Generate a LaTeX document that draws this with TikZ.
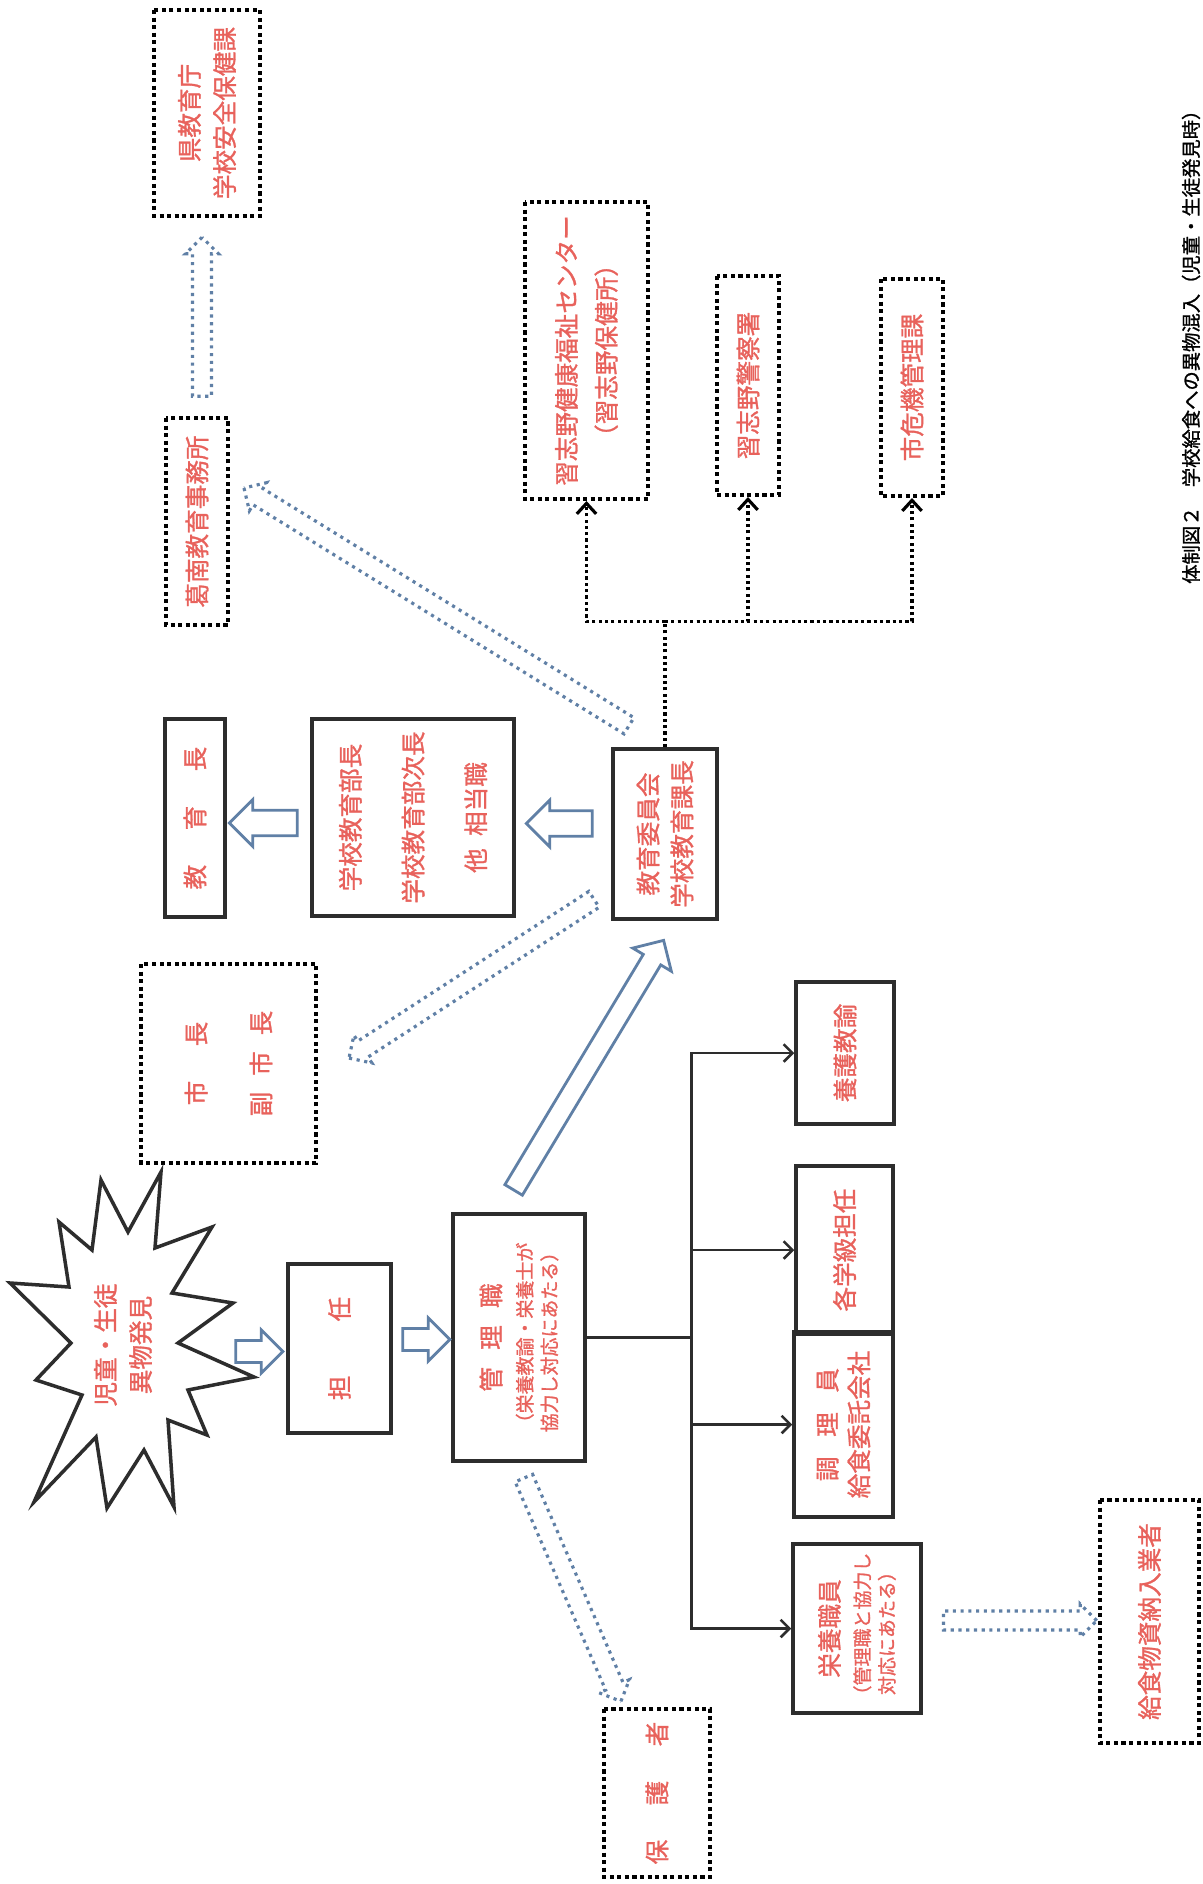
\documentclass[tikz,border=0pt]{standalone}
\usepackage{fontspec}
\newfontfamily\jp{Noto Sans CJK JP}[FakeBold=1.2]
\usetikzlibrary{shapes.arrows,arrows.meta,calc}
\definecolor{txtred}{RGB}{232,98,92}
\definecolor{arrowblue}{RGB}{96,128,166}
\definecolor{boxgray}{RGB}{45,45,45}
\newcommand{\sm}{\fontsize{10.8}{13.6}\selectfont}
\newcommand{\harrow}[3]{%
	\path let \p1=(#2), \p2=(#3), \n1={veclen(\x2-\x1,\y2-\y1)} in
		(\p1) -- (\p2) node[midway,#1,minimum height=\n1]{};}
\begin{document}
\begin{tikzpicture}[x={(0.02cm,0)},y={(0,-0.02cm)}]
		    \tikzstyle{solidbox}=[draw=boxgray,line width=2pt,rotate=90,inner sep=0pt,align=center,text=txtred,font=\jp\fontsize{14}{20}\selectfont]
		    \tikzstyle{dotbox}=[solidbox,draw=black,line width=2.3pt,dash pattern=on 2.3pt off 2pt]
		    \tikzstyle{hollow}=[single arrow,draw=arrowblue,line width=1.6pt,fill=white,inner xsep=0pt,inner ysep=5.5pt,single arrow head extend=6pt,sloped,allow upside down]
		    \tikzstyle{dothollow}=[hollow,line width=1.8pt,dash pattern=on 1.8pt off 2.6pt,inner ysep=4.5pt,single arrow head extend=4pt]
		    \tikzstyle{link}=[draw=boxgray,line width=1.5pt,-{Straight Barb[length=5pt,width=10pt]}]
		    \tikzstyle{dotlink}=[draw=black,line width=1.8pt,dash pattern=on 1.8pt off 1.8pt,-{Straight Barb[length=6pt,width=11pt]}]
		    \useasboundingbox[fill=white] (0,0) rectangle (1203,1884);

		    \node[dotbox,minimum width=4.12cm,minimum height=2.12cm] (ken) at (207,113) {県教育庁\\学校安全保健課};
		    \node[dotbox,minimum width=4.14cm,minimum height=1.24cm] (katsunan) at (197,521.5) {葛南教育事務所};
		    \node[dotbox,minimum width=5.94cm,minimum height=2.46cm,font=\jp\fontsize{14}{22.7}\selectfont] (kenko) at (586.5,350.5) {習志野健康福祉センター\\（習志野保健所）};
		    \node[dotbox,minimum width=4.38cm,minimum height=1.24cm] (keisatsu) at (748,385.5) {習志野警察署};
		    \node[dotbox,minimum width=4.34cm,minimum height=1.24cm] (kiki) at (912,387.5) {市危機管理課};
		    \node[solidbox,minimum width=3.96cm,minimum height=1.2cm] (kyoikucho) at (195,818) {教\hspace{1.4em}育\hspace{1.4em}長};
		    \node[solidbox,minimum width=3.94cm,minimum height=4.04cm,font=\jp\fontsize{14}{35.7}\selectfont] (bucho) at (413,817.5) {学校教育部長\\学校教育部次長\\他\hspace{0.5em}相当職};
		    \node[solidbox,minimum width=3.4cm,minimum height=2.08cm,font=\jp\fontsize{14}{19.3}\selectfont] (iinkai) at (665,834) {教育委員会\\学校教育課長};
		    \node[dotbox,minimum width=3.98cm,minimum height=3.5cm,font=\jp\fontsize{14}{36.9}\selectfont] (shicho) at (228.5,1063.5) {市\hspace{1.4em}長\\副\hspace{0.65em}市\hspace{0.65em}長};
		    \node[solidbox,minimum width=3.38cm,minimum height=2.06cm] (tannin) at (339.5,1348.5) {担\hspace{2.2em}任};
		    \node[solidbox,minimum width=4.94cm,minimum height=2.64cm,font=\jp\fontsize{14}{14}\selectfont] (kanri) at (519,1337.5) {管\hspace{0.7em}理\hspace{0.7em}職\\[4pt]\sm（栄養教諭・栄養士が\\\sm 協力し対応にあたる）};
		    \node[solidbox,minimum width=2.84cm,minimum height=1.96cm] (yogo) at (845,1053) {養護教諭};
		    \node[solidbox,minimum width=3.36cm,minimum height=1.94cm] (gakkyu) at (844.5,1250) {各学級担任};
		    \node[solidbox,minimum width=3.7cm,minimum height=1.98cm,font=\jp\fontsize{14}{18}\selectfont] (chori) at (843.5,1424.5) {調\hspace{0.8em}理\hspace{0.8em}員\\給食委託会社};
		    \node[solidbox,minimum width=3.38cm,minimum height=2.56cm,font=\jp\fontsize{14}{14}\selectfont] (eiyo) at (857,1628.5) {栄養職員\\[3.5pt]\sm（管理職と協力し\\\sm 対応にあたる）};
		    \node[dotbox,minimum width=4.86cm,minimum height=1.98cm] (noryu) at (1149.5,1621.5) {給食物資納入業者};
		    \node[dotbox,minimum width=3.36cm,minimum height=2.12cm] (hogo) at (657,1793) {保\hspace{1.4em}護\hspace{1.4em}者};

		    \draw[boxgray,line width=2pt,line join=miter] (161,1172) -- (155,1248) -- (212,1227) -- (172,1293) -- (233,1303) -- (178,1343) -- (254,1377) -- (188,1390) -- (207,1435) -- (168,1420) -- (174,1507) -- (144,1450) -- (107,1508) -- (96,1437) -- (34,1502) -- (82,1395) -- (36,1380) -- (71,1343) -- (10,1283) -- (69,1287) -- (59,1222) -- (92,1250) -- (101,1180) -- (128,1232) -- cycle;
		    \node[rotate=90,align=center,text=txtred,font=\jp\fontsize{14}{20}\selectfont] (star) at (123,1345) {児童・生徒\\異物発見};

		    \node[rotate=90,anchor=west,text=black,font=\jp\fontsize{11}{13}\selectfont] (title) at (1191,590) {体制図２　学校給食への異物混入（児童・生徒発見時）};

		    \draw[boxgray,line width=1.5pt] (kanri.south) -- ++(105,0) coordinate (trunk);
		    \draw[link] (trunk) |- (yogo.north);
		    \draw[link] (trunk) |- (gakkyu.north);
		    \draw[link] (trunk) |- (chori.north);
		    \draw[link] (trunk) |- (eiyo.north);

		    \draw[draw=black,line width=1.8pt,dash pattern=on 1.8pt off 1.8pt] (iinkai.east) -- ++(0,-126) coordinate (hub);
		    \draw[dotlink] (hub) -| (kenko.west);
		    \draw[dotlink] (hub) -| (keisatsu.west);
		    \draw[dotlink] (hub) -| (kiki.west);

		    \harrow{hollow}{$(tannin.north)+(-56,3)$}{$(tannin.north)+(-9,3)$}
		    \harrow{hollow}{$(kanri.north)+(-54,2)$}{$(kanri.north)+(-7,2)$}
		    \harrow{hollow,inner ysep=6.5pt}{$(bucho.south)+(83,6)$}{$(bucho.south)+(17,6)$}
		    \harrow{hollow,inner ysep=6.5pt}{$(kyoikucho.south)+(77,5)$}{$(kyoikucho.south)+(9,5)$}
		    \harrow{hollow,inner ysep=5pt,single arrow head extend=7pt}{$(kanri.east)+(-8,-18)$}{$(iinkai.west)+(-4,24)$}
		    \harrow{dothollow}{$(katsunan.east)+(5,-15)$}{$(ken.west)+(-5,24)$}
		    \harrow{dothollow}{$(iinkai.east)+(-32,-19)$}{$(katsunan.south)+(18,-31)$}
		    \harrow{dothollow}{$(iinkai.west)+(-67,-24)$}{$(shicho.south)+(35,-8)$}
		    \harrow{dothollow}{$(kanri.west)+(3,11)$}{$(hogo.east)+(-38,-10)$}
		    \harrow{dothollow}{$(eiyo.south)+(16,-8)$}{$(noryu.north)+(-6,-1)$}
		\end{tikzpicture}
\end{document}
